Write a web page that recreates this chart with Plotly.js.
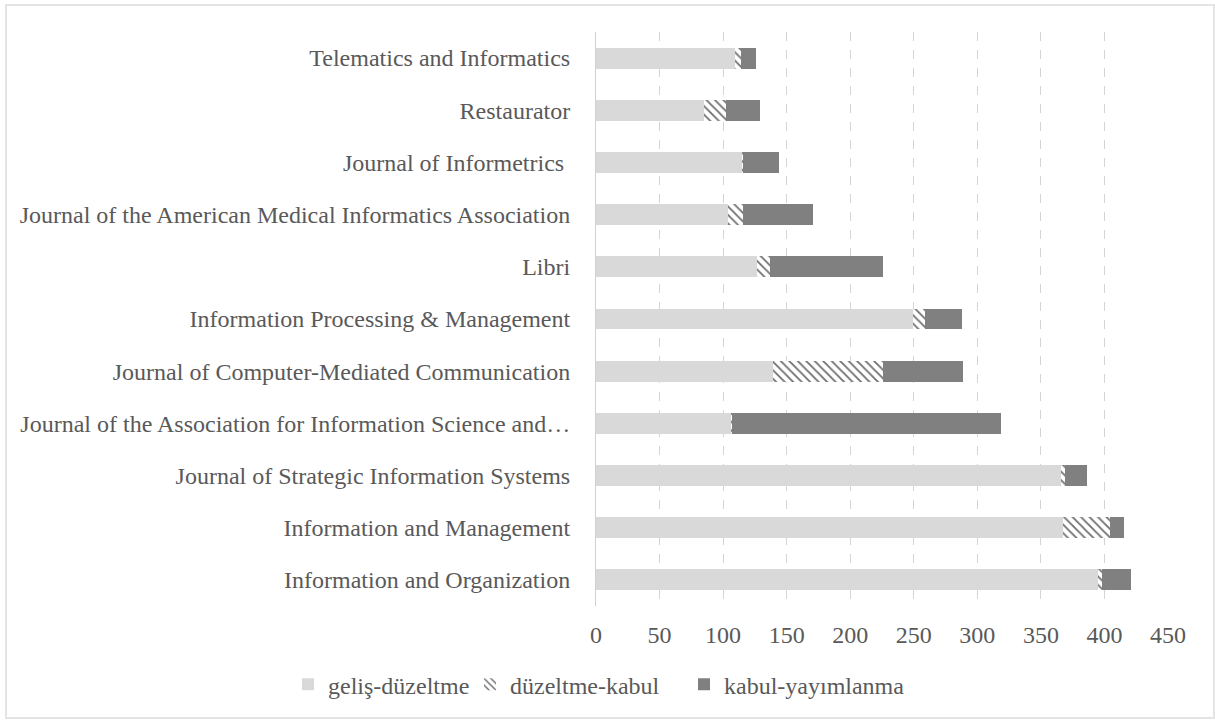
<!DOCTYPE html>
<html>
<head>
<meta charset="utf-8">
<script src="https://cdn.plot.ly/plotly-3.0.1.min.js"></script>
<style>
  html, body { margin: 0; padding: 0; background: #ffffff; }
  #frame { position: absolute; left: 5px; top: 4px; width: 1206px; height: 711px; border: 2px solid #e4e4e4; }
  #chart { position: absolute; left: 0; top: 0; width: 1215px; height: 720px; }
</style>
</head>
<body>
<div id="frame"></div>
<div id="chart"></div>
<script>
const journals = [
  "Telematics and Informatics",
  "Restaurator",
  "Journal of Informetrics ",
  "Journal of the American Medical Informatics Association",
  "Libri",
  "Information Processing & Management",
  "Journal of Computer-Mediated Communication",
  "Journal of the Association for Information Science and…",
  "Journal of Strategic Information Systems",
  "Information and Management",
  "Information and Organization"
];
const gelisDuzeltme   = [109, 85, 115, 104, 127, 249, 139, 106, 366, 367, 395];
const duzeltmeKabul   = [5, 17, 1, 12, 10, 10, 87, 1, 3, 37, 3];
const kabulYayimlanma = [12, 27, 28, 55, 89, 29, 63, 212, 17, 11, 23];
const seriesNames = ["geliş-düzeltme", "düzeltme-kabul", "kabul-yayımlanma"];
const xTicks = [0, 50, 100, 150, 200, 250, 300, 350, 400, 450];

const textColor = "#595959";
const fontFam = "'Liberation Serif', 'Times New Roman', serif";

const traces = [
  {
    type: "bar", orientation: "h", name: seriesNames[0], legend: "legend",
    y: journals, x: gelisDuzeltme,
    marker: { color: "#d9d9d9", line: { width: 0 } },
    hoverinfo: "x+y"
  },
  {
    type: "bar", orientation: "h", name: seriesNames[1], legend: "legend2",
    y: journals, x: duzeltmeKabul,
    marker: {
      color: "#ffffff",
      line: { width: 0 },
      pattern: { shape: "\\", fgcolor: "#6e6e6e", bgcolor: "#ffffff", size: 6, solidity: 0.3 }
    },
    hoverinfo: "x+y"
  },
  {
    type: "bar", orientation: "h", name: seriesNames[2], legend: "legend3",
    y: journals, x: kabulYayimlanma,
    marker: { color: "#808080", line: { width: 0 } },
    hoverinfo: "x+y"
  }
];

function legendAt(leftPx) {
  return {
    orientation: "h",
    xref: "container", yref: "container",
    x: leftPx / 1215, xanchor: "left",
    y: 0.049, yanchor: "middle",
    font: { family: fontFam, size: 24, color: textColor },
    bgcolor: "rgba(0,0,0,0)",
    borderwidth: 0
  };
}

const layout = {
  width: 1215, height: 720,
  paper_bgcolor: "rgba(0,0,0,0)",
  plot_bgcolor: "rgba(0,0,0,0)",
  barmode: "stack",
  bargap: 0.6,
  margin: { l: 596, r: 47, t: 32, b: 114, autoexpand: false },
  font: { family: fontFam, color: textColor, size: 24 },
  xaxis: {
    range: [0, 450],
    tickvals: xTicks,
    ticktext: xTicks.map(String),
    showgrid: true,
    gridcolor: "#d4d4d4",
    griddash: "dash",
    gridwidth: 1,
    zeroline: false,
    showline: false,
    ticks: "",
    ticklabelstandoff: 12,
    tickfont: { family: fontFam, size: 24, color: textColor },
    fixedrange: true
  },
  yaxis: {
    type: "category",
    autorange: "reversed",
    showgrid: false,
    zeroline: false,
    showline: true,
    linecolor: "#d0d0d0",
    linewidth: 1,
    ticks: "",
    ticklabelstandoff: 20,
    tickfont: { family: fontFam, size: 24, color: textColor },
    fixedrange: true
  },
  showlegend: true,
  legend: legendAt(288),
  legend2: legendAt(470),
  legend3: legendAt(684)
};

Plotly.newPlot("chart", traces, layout, { displayModeBar: false, staticPlot: true });
</script>
</body>
</html>
